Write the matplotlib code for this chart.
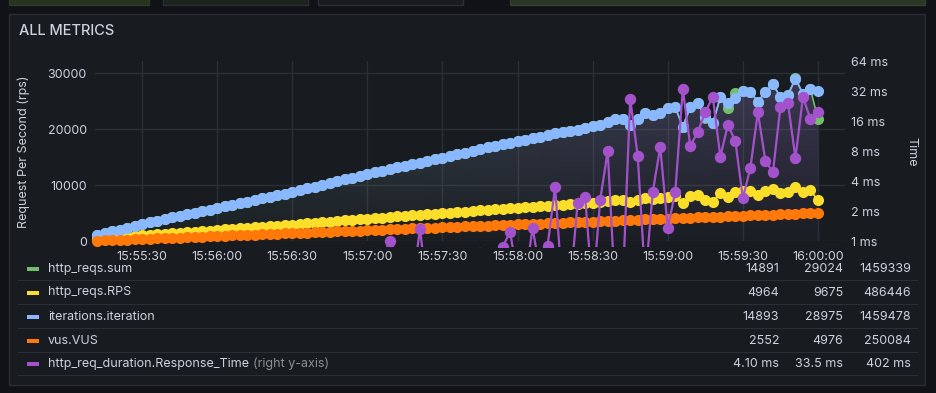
import numpy as np
import pandas as pd
import matplotlib
matplotlib.use("Agg")
import matplotlib.pyplot as plt
import matplotlib.dates as mdates
from matplotlib.patches import Rectangle
from matplotlib.ticker import NullLocator

plt.rcParams['font.family'] = ['Inter', 'DejaVu Sans']

# 3 second samples, 15:55:12 -> 16:00:00
times = pd.date_range('2023-01-01 15:55:12', periods=97, freq='3s')

iterations = [1000, 1350, 1700, 2050, 2400, 2750, 3050, 3350, 3650, 3950,
              4200, 4450, 4750, 5050, 5300, 5600, 5900, 6200, 6450, 6750,
              7050, 7300, 7600, 7900, 8200, 8450, 8750, 9050, 9400, 9700,
              10050, 10350, 10700, 11000, 11300, 11650, 11950, 12250, 12550, 12850,
              13150, 13400, 13700, 14000, 14300, 14600, 14900, 15200, 15500, 15800,
              16100, 16400, 16700, 16950, 17250, 17550, 17850, 18100, 18400, 18650,
              18950, 19200, 19450, 19700, 19900, 20200, 20500, 20800, 21300, 21700,
              21700, 20700, 21700, 22850, 22500, 22850, 23750, 23900, 20400, 23900,
              24600, 22100, 21000, 25700, 24600, 25500, 26800, 26600, 24900, 26600,
              28000, 25700, 26100, 28975, 26300, 27100, 26800]

reqs_sum = [1000, 1350, 1700, 2050, 2400, 2750, 3050, 3350, 3650, 3950,
            4200, 4450, 4750, 5050, 5300, 5600, 5900, 6200, 6450, 6750,
            7050, 7300, 7600, 7900, 8200, 8450, 8750, 9050, 9400, 9700,
            10050, 10350, 10700, 11000, 11300, 11650, 11950, 12250, 12550, 12850,
            13150, 13400, 13700, 14000, 14300, 14600, 14900, 15200, 15500, 15800,
            16100, 16400, 16700, 16950, 17250, 17550, 17850, 18100, 18400, 18650,
            18950, 19200, 19450, 19700, 19900, 20200, 20500, 20800, 21300, 21700,
            21700, 20700, 21700, 22850, 22500, 22850, 23750, 23900, 20400, 23900,
            24600, 22000, 21000, 25700, 23750, 26400, 26800, 26600, 24900, 26600,
            28000, 25700, 26100, 29024, 26300, 27100, 21800]

reqs_rps = [333, 450, 567, 683, 800, 917, 1017, 1117, 1217, 1317,
            1400, 1483, 1583, 1683, 1767, 1867, 1967, 2067, 2150, 2250,
            2350, 2433, 2533, 2633, 2733, 2817, 2917, 3017, 3133, 3233,
            3350, 3450, 3567, 3667, 3767, 3883, 3983, 4083, 4183, 4283,
            4383, 4467, 4567, 4667, 4767, 4867, 4967, 5067, 5167, 5267,
            5367, 5467, 5567, 5650, 5750, 5850, 5950, 6033, 6133, 6217,
            6317, 6400, 6483, 6567, 6633, 6733, 6833, 6933, 7100, 7233,
            7233, 6900, 7233, 7617, 7500, 7617, 7917, 7967, 6800, 7967,
            8200, 7333, 7000, 8567, 7917, 8800, 8933, 8867, 8300, 8867,
            9333, 8567, 8700, 9675, 8767, 9033, 7267]

vus = [50, 100, 155, 205, 260, 310, 360, 415, 465, 520,
       570, 620, 675, 725, 780, 830, 880, 935, 985, 1040,
       1090, 1140, 1195, 1245, 1300, 1350, 1400, 1455, 1505, 1560,
       1610, 1660, 1715, 1765, 1820, 1870, 1920, 1975, 2025, 2080,
       2130, 2180, 2235, 2285, 2340, 2390, 2440, 2495, 2545, 2600,
       2650, 2700, 2755, 2805, 2860, 2910, 2960, 3015, 3065, 3120,
       3170, 3220, 3275, 3325, 3380, 3430, 3480, 3535, 3585, 3640,
       3690, 3740, 3795, 3845, 3900, 3950, 4000, 4055, 4105, 4160,
       4210, 4260, 4315, 4365, 4420, 4470, 4520, 4575, 4625, 4680,
       4730, 4780, 4835, 4885, 4940, 4960, 4976]

# response time in ms (right axis, log2)
resp_time = [0.62, 0.58, 0.55, 0.6, 0.57, 0.54, 0.59, 0.56, 0.6, 0.58,
             0.55, 0.61, 0.57, 0.59, 0.56, 0.6, 0.62, 0.58, 0.57, 0.61,
             0.59, 0.63, 0.6, 0.58, 0.62, 0.65, 0.61, 0.6, 0.64, 0.66,
             0.63, 0.62, 0.67, 0.65, 0.7, 0.66, 0.68, 0.72, 0.69, 1.0,
             0.7, 0.66, 0.35, 1.32, 0.32, 0.68, 0.7, 0.72, 0.69, 0.74,
             0.71, 0.75, 0.7, 0.5, 0.87, 1.23, 0.45, 0.4, 1.35, 0.5,
             0.9, 3.48, 0.3, 0.35, 2.41, 2.76, 0.3, 2.58, 8.0, 0.3,
             0.35, 26.7, 7.1, 0.4, 3.1, 8.8, 1.35, 3.1, 33.5, 9.0,
             12.4, 19.7, 27.9, 7.0, 14.6, 10.1, 2.7, 5.4, 19.7, 6.35,
             4.9, 22.1, 24.3, 6.8, 27.9, 16.7, 19.7]

legend_names = ['http_reqs.sum', 'http_reqs.RPS', 'iterations.iteration', 'vus.VUS',
                'http_req_duration.Response_Time']
legend_mean = ['14891', '4964', '14893', '2552', '4.10 ms']
legend_max = ['29024', '9675', '28975', '4976', '33.5 ms']
legend_total = ['1459339', '486446', '1459478', '250084', '402 ms']

right_ticks = [1, 2, 4, 8, 16, 32, 64]
right_labels = ['1 ms', '2 ms', '4 ms', '8 ms', '16 ms', '32 ms', '64 ms']
left_ticks = [0, 10000, 20000, 30000]

colors = ['#73bf69', '#fade2a', '#8ab8ff', '#ff780a', '#a352cc']
txt = '#d0d0de'
W, H = 936, 393

fig = plt.figure(figsize=(W / 100, H / 100), dpi=100, facecolor='#111217')

def px_rect(x0, y0, x1, y1, z=-1, **kw):
    r = Rectangle((x0 / W, 1 - y1 / H), (x1 - x0) / W, (y1 - y0) / H,
                  transform=fig.transFigure, zorder=z, **kw)
    fig.patches.append(r)
    return r

# bits of the panels above
px_rect(9, -3, 149, 5, facecolor='#26331f', edgecolor='#2c3a2a', lw=1)
px_rect(163, -3, 308, 5, facecolor='#1b231c', edgecolor='#2c2e35', lw=1)
px_rect(318, -3, 463, 5, facecolor='#181b1f', edgecolor='#2c2e35', lw=1)
px_rect(510, -3, 925, 5, facecolor='#2a3727', edgecolor='#334030', lw=1)

# panel
px_rect(9, 14, 925, 385, facecolor='#181b1f', edgecolor='#2a2c33', lw=1)
fig.text(19 / W, 1 - 31 / H, 'ALL METRICS', fontsize=10.5, color=txt,
         va='center', ha='left', fontweight='medium')

ax = fig.add_axes([95 / W, 1 - 241 / H, 750 / W, 180 / H])
ax.set_facecolor('none')
for s in ax.spines.values():
    s.set_visible(False)

# gradient area under http_reqs.sum
poly = ax.fill_between(times, reqs_sum, 0, facecolor='none', edgecolor='none')
ny, nx = 64, 128
grad = np.zeros((ny, nx, 4))
hx = np.linspace(0, 1, nx)[None, :]
vy = np.linspace(0, 1, ny)[:, None]
grad[..., 0] = (105 + 45 * hx) / 255
grad[..., 1] = (180 - 55 * hx) / 255
grad[..., 2] = (160 + 50 * hx) / 255
grad[..., 3] = 0.03 + 0.27 * vy
x0n, x1n = mdates.date2num(times[0]), mdates.date2num(times[-1])
img = ax.imshow(grad, extent=[x0n, x1n, 0, 30000], aspect='auto', origin='lower',
                zorder=1, interpolation='bilinear')
img.set_clip_path(poly.get_paths()[0], transform=ax.transData)

series = [reqs_sum, reqs_rps, iterations, vus]
for vals, c in zip(series, colors[:4]):
    ax.plot(times, vals, color=c, lw=1.2, marker='o', ms=8, mew=0, zorder=3,
            clip_on=False)

ax.set_xlim(pd.Timestamp('2023-01-01 15:55:11.2'), pd.Timestamp('2023-01-01 16:00:10.8'))
ax.set_ylim(0, 32143)
ax.set_yticks(left_ticks)
ax.set_yticklabels([str(v) for v in left_ticks])
ax.xaxis.set_major_locator(mdates.SecondLocator(bysecond=[0, 30]))
ax.xaxis.set_major_formatter(mdates.DateFormatter('%H:%M:%S'))
ax.grid(True, color='#2c2f35', lw=1)
ax.set_axisbelow(True)
ax.tick_params(length=0, colors=txt, labelsize=9)
ax.tick_params(axis='y', pad=6)
ax.tick_params(axis='x', pad=7)

ax2 = ax.twinx()
ax2.set_facecolor('none')
for s in ax2.spines.values():
    s.set_visible(False)
clip = Rectangle((0, -0.035), 1, 1.07, transform=ax2.transAxes,
                 facecolor='none', edgecolor='none')
ln, = ax2.plot(times, resp_time, color=colors[4], lw=1.6, marker='o', ms=8.2,
               mew=0, zorder=4)
ln.set_clip_path(clip)
ax2.set_yscale('log', base=2)
ax2.set_ylim(1, 64)
ax2.set_yticks(right_ticks)
ax2.set_yticklabels(right_labels)
ax2.yaxis.set_minor_locator(NullLocator())
ax2.tick_params(length=0, colors=txt, labelsize=9, pad=4)

fig.text(24 / W, 1 - 152 / H, 'Request Per Second (rps)', rotation=90,
         fontsize=9, color=txt, ha='center', va='center')
fig.text(911 / W, 1 - 152 / H, 'Time', rotation=270,
         fontsize=9, color=txt, ha='center', va='center')

# legend table
row_y = [269, 292.5, 316.5, 340.5, 364]
sep_y = [280, 304, 328, 352, 375]
renderer = fig.canvas.get_renderer()
for k, name in enumerate(legend_names):
    y = 1 - row_y[k] / H
    px_rect(27, row_y[k] - 2, 39, row_y[k] + 2, z=2, facecolor=colors[k], edgecolor='none')
    t = fig.text(48 / W, y, name, fontsize=9, color=txt, va='center', ha='left')
    if k == 4:
        bb = t.get_window_extent(renderer)
        fig.text((bb.x1 + 4) / W, y, '(right y-axis)', fontsize=9, color='#8e8e96',
                 va='center', ha='left')
    fig.text(779 / W, y, legend_mean[k], fontsize=9, color=txt, va='center', ha='right')
    fig.text(843 / W, y, legend_max[k], fontsize=9, color=txt, va='center', ha='right')
    fig.text(911 / W, y, legend_total[k], fontsize=9, color=txt, va='center', ha='right')
    px_rect(18, sep_y[k], 918, sep_y[k] + 0.6, z=2, facecolor='#2c2e35', edgecolor='none')

fig.savefig('out.png', dpi=100, facecolor=fig.get_facecolor())
